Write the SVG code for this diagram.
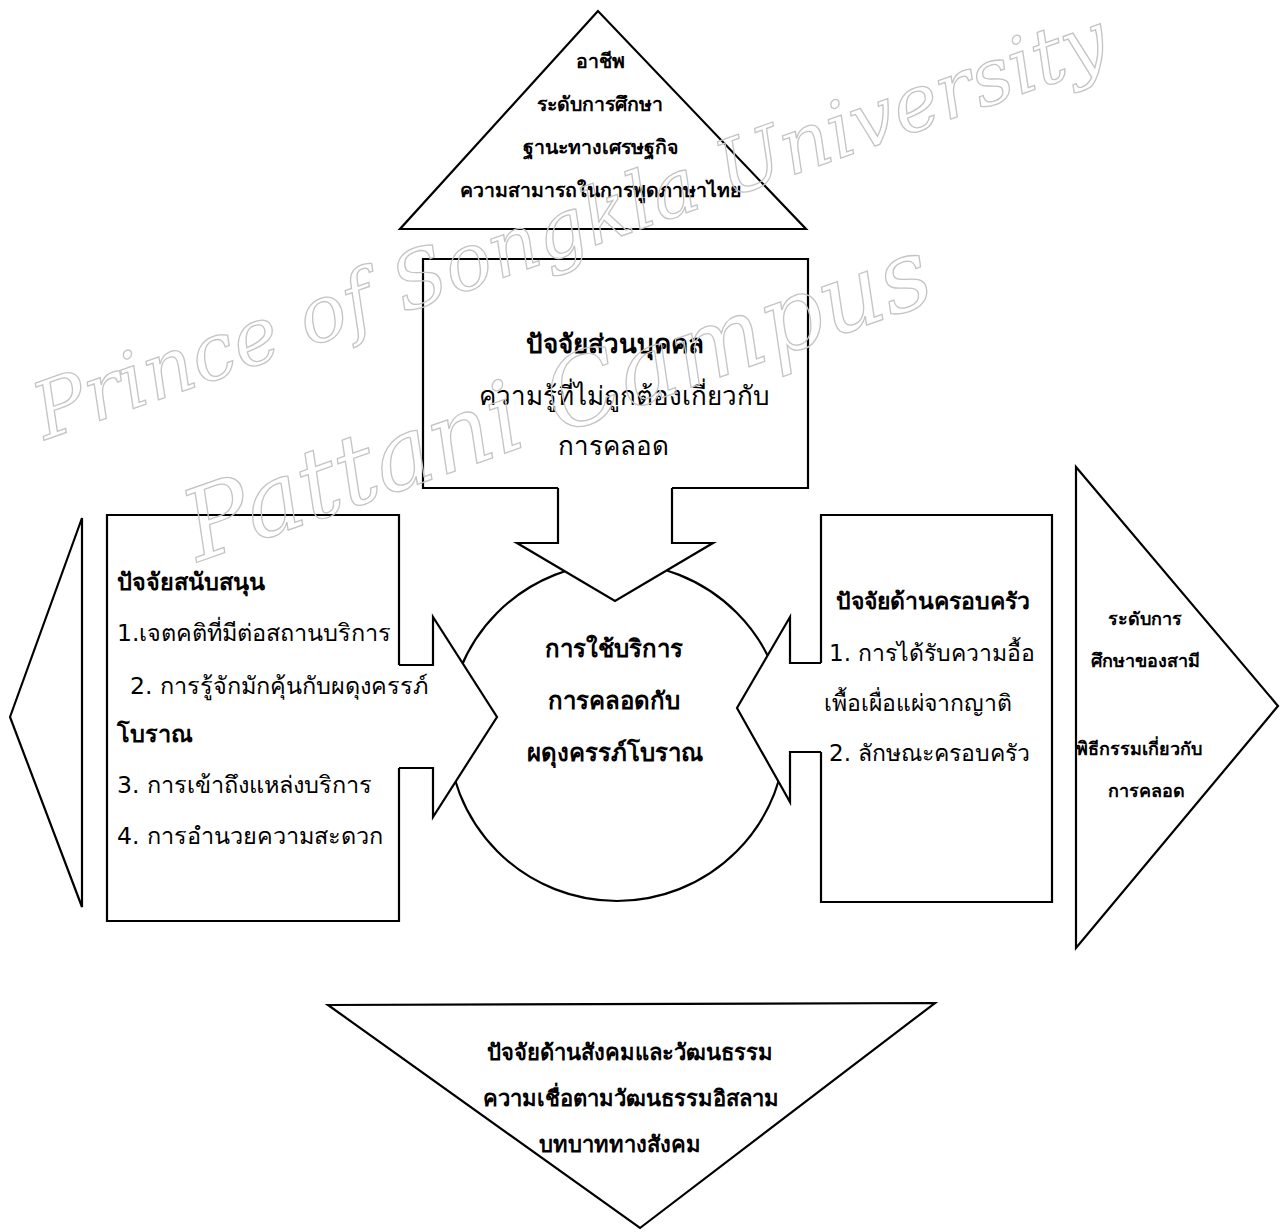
<svg xmlns="http://www.w3.org/2000/svg" width="1282" height="1232" viewBox="0 0 1282 1232">
<style>
.shape{fill:#fff;stroke:#000;stroke-width:2.2;stroke-linejoin:miter}
.line{fill:none;stroke:#000;stroke-width:2.2;stroke-linejoin:miter}
.fillw{fill:#fff;stroke:none}
text{font-family:"DejaVu Sans","Noto Sans",sans-serif;fill:#000}
.b{font-weight:bold}
.c{text-anchor:middle}
.wm{font-family:"DejaVu Serif","Liberation Serif",serif;font-style:italic;fill:none;stroke:#c4c4c4;stroke-width:1.3}
</style>
<rect width="1282" height="1232" fill="#fff"/>

<g id="node-occupation">
<polygon class="shape" points="598,11 400,229 806,229"/>
<g class="b c" font-size="19.5">
<text x="600" y="68">อาชีพ</text>
<text x="600" y="111">ระดับการศึกษา</text>
<text x="600" y="154">ฐานะทางเศรษฐกิจ</text>
<text x="600" y="197">ความสามารถในการพูดภาษาไทย</text>
</g>
</g>

<g id="node-center">
<circle class="shape" cx="617" cy="732" r="169"/>
<g class="b c" font-size="24">
<text x="614" y="657">การใช้บริการ</text>
<text x="614" y="709">การคลอดกับ</text>
<text x="615" y="761">ผดุงครรภ์โบราณ</text>
</g>
</g>

<g id="node-personal">
<rect class="fillw" x="423" y="259" width="385" height="229"/>
<path class="line" d="M558,488 H423 V259 H808 V488 H672"/>
<g class="c" font-size="26">
<text class="b" x="615" y="353">ปัจจัยส่วนบุคคล</text>
<text x="624" y="405">ความรู้ที่ไม่ถูกต้องเกี่ยวกับ</text>
<text x="613" y="455">การคลอด</text>
</g>
</g>

<g id="node-support">
<rect class="fillw" x="107" y="515" width="292" height="406"/>
<g font-size="23.5">
<text class="b" x="117" y="590">ปัจจัยสนับสนุน</text>
<text x="117" y="641">1.เจตคติที่มีต่อสถานบริการ</text>
<text x="130" y="694">2. การรู้จักมักคุ้นกับผดุงครรภ์</text>
<text class="b" x="117" y="742">โบราณ</text>
<text x="117" y="793">3. การเข้าถึงแหล่งบริการ</text>
<text x="117" y="844">4. การอำนวยความสะดวก</text>
</g>
<path class="line" d="M399,665 V515 H107 V921 H399 V768"/>
</g>

<g id="node-left-triangle">
<polygon class="shape" points="10,717 82,518 82,907"/>
</g>

<g id="node-family">
<rect class="fillw" x="821" y="515" width="231" height="387"/>
<path class="line" d="M821,663 V515 H1052 V902 H821 V752"/>
<g font-size="23">
<text class="b" x="836" y="609">ปัจจัยด้านครอบครัว</text>
<text x="829" y="661">1. การได้รับความอื้อ</text>
<text x="824" y="711">เพื้อเผื่อแผ่จากญาติ</text>
<text x="829" y="761">2. ลักษณะครอบครัว</text>
</g>
</g>

<g id="node-husband">
<polygon class="shape" points="1076,467 1278,706 1076,948"/>
<g class="b c" font-size="18">
<text x="1145" y="625">ระดับการ</text>
<text x="1145" y="667">ศึกษาของสามี</text>
<text x="1139" y="755">พิธีกรรมเกี่ยวกับ</text>
<text x="1146" y="797">การคลอด</text>
</g>
</g>

<g id="node-social">
<polygon class="shape" points="328,1005 935,1003 640,1228"/>
<g class="b c" font-size="22">
<text x="630" y="1060">ปัจจัยด้านสังคมและวัฒนธรรม</text>
<text x="631" y="1106">ความเชื่อตามวัฒนธรรมอิสลาม</text>
<text x="620" y="1152">บทบาททางสังคม</text>
</g>
</g>

<g id="connectors">
<polygon class="fillw" points="517,543 615,601 713,543"/>
<path class="line" d="M558,488 V543 H517 L615,601 L713,543 H672 V488"/>
<polygon class="fillw" points="433,617 497,717 433,817"/>
<path class="line" d="M399,665 H433 V617 L497,717 L433,817 V768 H399"/>
<polygon class="fillw" points="790,617 737,708 790,802"/>
<path class="line" d="M821,663 H790 V617 L737,708 L790,802 V752 H821"/>
</g>

<g id="watermark">
<text class="wm" font-size="78" transform="translate(45,440) rotate(-19.5)">Prince of Songkla University</text>
<text class="wm" font-size="98" transform="translate(198,562) rotate(-19.5)">Pattani Campus</text>
</g>
</svg>
